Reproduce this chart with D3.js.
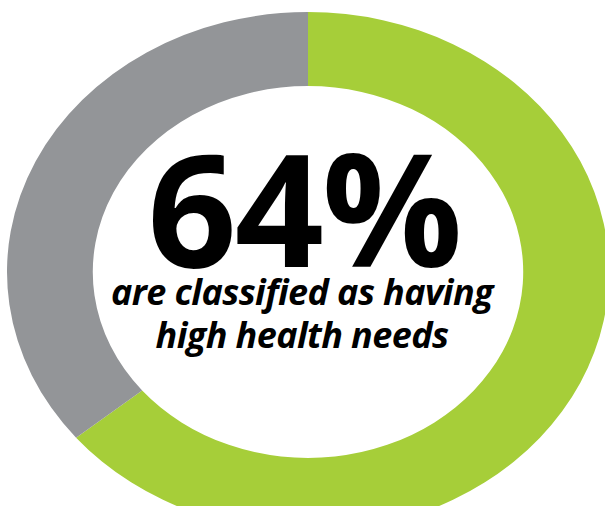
<!DOCTYPE html>
<html>
<head>
<meta charset="utf-8">
<script src="https://cdn.jsdelivr.net/npm/d3@7"></script>
<style>
  body { margin: 0; background: #fff; }
  svg { display: block; }
</style>
</head>
<body>
<div id="chart"></div>
<script>
// data
var categories = ["High health needs", "Other"];
var values = [64, 36];
var colors = ["#a6ce39", "#939598"];
var headline = "64%";
var caption = ["are classified as having", "high health needs"];

window.onload = function() {
  var width = 605
  var height = 506

  var svg = d3.select("#chart")
              .append("svg")
              .attr("width", width)
              .attr("height", height);

  // ring is a circle stretched into an ellipse
  var cx = 308, cy = 272
  var rx = 301, ry = 260

  var pie = d3.pie()
              .sort(null)
              .value(function(d) { return d; });

  var arc = d3.arc()
              .innerRadius(71.5)
              .outerRadius(100);

  var color = d3.scaleOrdinal()
                .domain(categories)
                .range(colors);

  var ring = svg.append("g")
                .attr("transform", "translate(" + cx + "," + cy + ") scale(" + rx / 100 + "," + ry / 100 + ")");

  ring.selectAll("path")
      .data(pie(values))
      .enter()
      .append("path")
      .attr("d", arc)
      .style("fill", function(d, i) { return color(categories[i]); });

  // text block in the middle (one text, lines as tspans)
  var label = svg.append("text")
                 .attr("text-anchor", "middle")
                 .style("font-family", "'Open Sans', sans-serif")
                 .style("font-weight", "bold");

  label.append("tspan")
       .attr("x", 304)
       .attr("y", 267)
       .style("font-size", "156px")
       .style("letter-spacing", "-2px")
       .text(headline);

  label.selectAll(".caption")
       .data(caption)
       .enter()
       .append("tspan")
       .attr("class", "caption")
       .attr("x", 302)
       .attr("y", function(d, i) { return 305 + i * 43; })
       .style("font-style", "italic")
       .style("font-size", "36px")
       .style("letter-spacing", "-0.6px")
       .text(function(d) { return d; });
};
</script>
</body>
</html>
